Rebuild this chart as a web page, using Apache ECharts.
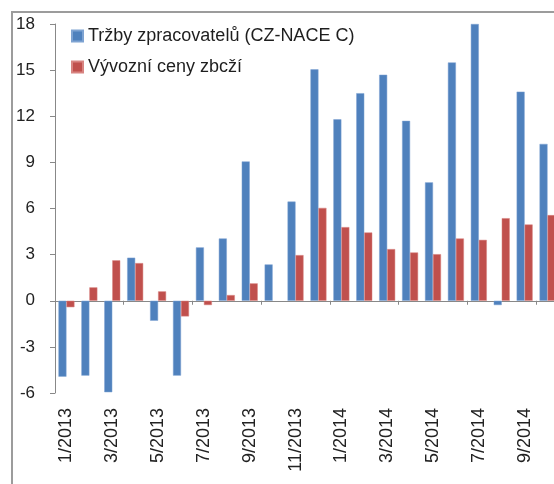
<!DOCTYPE html>
<html>
<head>
<meta charset="utf-8">
<script src="https://cdn.jsdelivr.net/npm/echarts@6/dist/echarts.min.js"></script>
<style>
  html, body { margin: 0; padding: 0; overflow: hidden; background: #fff; }
  #main { width: 580px; height: 484px; }
</style>
</head>
<body>
<div id="main"></div>
<script>
// months (x axis)
const categories = [
  '1/2013', '2/2013', '3/2013', '4/2013', '5/2013', '6/2013', '7/2013', '8/2013',
  '9/2013', '10/2013', '11/2013', '12/2013', '1/2014', '2/2014', '3/2014', '4/2014',
  '5/2014', '6/2014', '7/2014', '8/2014', '9/2014', '10/2014'
]
// Tržby zpracovatelů (CZ-NACE C)
const trzby = [
  -4.94, -4.87, -5.95, 2.8, -1.3, -4.87, 3.47, 4.05, 9.06, 2.36, 6.45, 15.05,
  11.8, 13.5, 14.7, 11.7, 7.7, 15.5, 18.0, -0.28, 13.6, 10.2
]
// Vývozní ceny zbcží
const ceny = [
  -0.42, 0.87, 2.63, 2.45, 0.61, -1.02, -0.28, 0.37, 1.13, null, 2.97, 6.04,
  4.79, 4.44, 3.36, 3.14, 3.03, 4.05, 3.96, 5.37, 4.96, 5.57
]
const seriesNames = ['Tržby zpracovatelů (CZ-NACE C)', 'Vývozní ceny zbcží']

const font = "'Liberation Sans', Arial, sans-serif"
const chart = echarts.init(document.getElementById('main'))

chart.setOption({
  animation: false,
  textStyle: { fontFamily: font },
  // outer chart frame
  graphic: [{
    type: 'rect',
    shape: { x: 12, y: 12, width: 640, height: 600 },
    style: { fill: 'none', stroke: '#9c9c9c', lineWidth: 2 },
    silent: true
  }],
  legend: {
    orient: 'vertical',
    left: 66,
    top: 22,
    itemWidth: 11,
    itemHeight: 11,
    itemGap: 13,
    icon: 'rect',
    textStyle: { fontSize: 18, color: '#1e1e1e', fontFamily: font },
    data: seriesNames
  },
  grid: { left: 55, top: 24, width: 504, height: 369, containLabel: false },
  xAxis: [{
    type: 'category',
    data: categories,
    axisLine: { onZero: true, lineStyle: { color: '#888', width: 1 } },
    axisTick: { show: true, length: 4, lineStyle: { color: '#888' } },
    axisLabel: { show: false }
  }, {
    // labels sit at the bottom of the plot, not on the zero line
    type: 'category',
    data: categories,
    position: 'bottom',
    axisLine: { show: false, onZero: false },
    axisTick: { show: false },
    axisLabel: {
      rotate: 90,
      interval: 1,
      margin: 15,
      fontSize: 18,
      color: '#222',
      fontFamily: font
    }
  }],
  yAxis: {
    type: 'value',
    min: -6,
    max: 18,
    interval: 3,
    splitLine: { show: false },
    axisLine: { show: true, lineStyle: { color: '#888' } },
    axisTick: { show: true, length: 5, lineStyle: { color: '#888' } },
    axisLabel: { fontSize: 17, color: '#222', margin: 20, fontFamily: font }
  },
  series: [{
    name: seriesNames[0],
    type: 'bar',
    xAxisIndex: 0,
    data: trzby,
    barWidth: 8,
    barGap: '0%',
    itemStyle: { color: '#4f81bd', borderColor: '#7ea3d2', borderWidth: 0.5 }
  }, {
    name: seriesNames[1],
    type: 'bar',
    xAxisIndex: 0,
    data: ceny,
    barWidth: 8,
    barGap: '0%',
    itemStyle: { color: '#c0504d', borderColor: '#d88481', borderWidth: 0.5 }
  }]
})
</script>
</body>
</html>
